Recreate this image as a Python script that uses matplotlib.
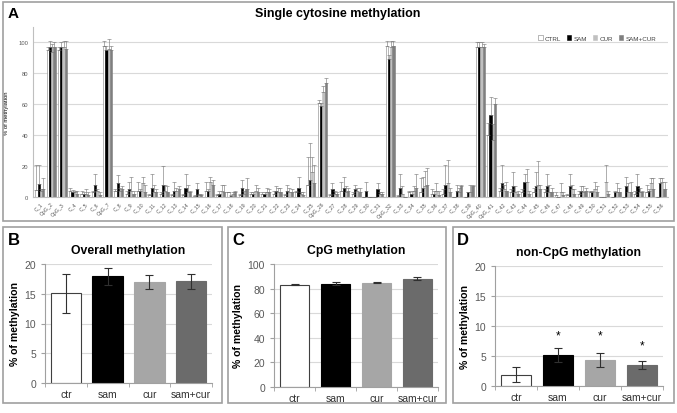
import numpy as np
import matplotlib.pyplot as plt
from matplotlib.patches import Rectangle

plt.rcParams['font.family'] = ['Liberation Sans', 'DejaVu Sans']

# ------------------------------------------------------------------
# panel A data: single cytosine methylation (%), mean and upper error
sites = ["C_1", "CpG_2", "CpG_3", "C_4", "C_5", "C_6", "CpG_7"] + \
        ["C_%d" % i for i in range(8, 26)] + ["CpG_26"] + \
        ["C_%d" % i for i in range(27, 32)] + ["CpG_32"] + \
        ["C_%d" % i for i in range(33, 40)] + ["CpG_40", "CpG_41"] + \
        ["C_%d" % i for i in range(42, 57)]

ctrl = [4.5, 95, 95, 4, 2, 3, 98, 4, 2, 4, 1, 2, 1, 1, 0.5, 4, 1, 3, 1, 2, 2, 2, 1, 3, 8, 61,
        1, 4, 2, 0, 0, 98, 0.5, 3, 3, 2, 2, 0, 0, 97, 40, 4, 3, 3, 3, 3, 1, 1, 2, 3, 0, 0, 0, 2, 3, 0]
sam = [8.5, 97, 97, 3.5, 2, 8, 95, 9, 5.5, 4, 6, 8, 4, 6, 5, 4, 2, 0.5, 6, 2, 2, 4, 4, 6, 11, 59,
       5, 6, 5, 4, 5, 89, 6, 2, 6, 2, 8, 4, 3, 97, 53, 9, 7, 10, 7, 7, 0, 7, 4, 3, 0, 3, 7, 7, 4, 9]
cur = [4, 94, 97, 3, 2, 4, 96, 4, 4, 9, 3, 4, 4, 3, 1, 10, 4, 2, 2, 4, 3, 3, 3, 2, 16, 68,
       2, 3, 4, 0, 2, 97, 2, 4, 7, 4, 9, 3, 3, 97, 37, 5, 3, 10, 8, 3, 3, 5, 3, 5, 10, 3, 3, 3, 9, 10]
samcur = [5, 97, 96, 2, 1.5, 1.5, 95, 5, 2, 3, 3, 3, 5, 3, 1, 8, 3, 3, 5, 3, 3, 3, 3, 1, 9, 74,
          2, 4, 3, 0, 2, 98, 0, 6, 8, 1, 3, 7, 7, 97, 60, 4, 2, 2, 5, 3, 1, 2, 4, 3, 2, 3, 3, 3, 5, 5]

ctrl_err = [16, 2, 2, 2, 2, 1, 3, 1, 2, 6, 1, 1, 1, 1, 0.5, 6, 1, 0.5, 1, 1, 1, 2, 1, 1, 18, 2,
            1, 6, 1, 0, 0, 3, 0.5, 1, 9, 3, 3, 0, 0, 3, 8, 2, 2, 2, 3, 2, 2, 1, 2, 1, 0, 0, 0, 2, 5, 0]
sam_err = [12, 4, 3, 1, 1, 7, 3, 5, 4, 1, 9, 12, 6, 9, 4, 1, 2, 0.5, 5, 1, 1, 3, 4, 7, 24, 2,
           4, 7, 3, 6, 4, 3, 9, 2, 7, 2, 13, 4, 0.5, 3, 12, 12, 9, 5, 9, 8, 0, 8, 3, 1, 0, 1, 6, 8, 1, 3]
cur_err = [1, 5, 4, 1, 3, 1, 6, 2, 9, 4, 5, 4, 2, 5, 1, 3, 4, 1, 2, 4, 3, 3, 3, 1, 10, 4,
           2, 4, 2, 0, 1, 4, 5, 3, 10, 5, 15, 3, 5, 3, 10, 3, 4, 8, 15, 5, 6, 3, 4, 5, 11, 6, 6, 3, 3, 2]
samcur_err = [7, 3, 5, 2, 2, 2, 3, 2, 2, 5, 2, 4, 2, 1, 1, 3, 5, 1, 7, 3, 2, 3, 2, 2, 12, 3,
              1, 2, 3, 0, 1, 3, 0, 9, 11, 3, 3, 1, 1, 2, 4, 6, 2, 2, 3, 3, 2, 3, 2, 4, 2, 3, 7, 1, 7, 5]

series_names = ["CTRL", "SAM", "CUR", "SAM+CUR"]

# panels B-D data
groups = ["ctr", "sam", "cur", "sam+cur"]
overall = [15.1, 17.9, 17.0, 17.1]
overall_err = [3.3, 1.4, 1.2, 1.3]
cpg = [83.2, 84.0, 84.8, 88.2]
cpg_err = [0.3, 1.3, 0.5, 1.5]
noncpg = [1.9, 5.2, 4.3, 3.5]
noncpg_err = [1.2, 1.2, 1.2, 0.7]
noncpg_star = [None, 8.5, 8.5, 6.7]

# ------------------------------------------------------------------
FACE_A = ["white", "black", "#c0c0c0", "#7f7f7f"]
FACE_B = ["white", "black", "#a6a6a6", "#6b6b6b"]
TICKCOL = "#595959"
GRIDCOL = "#d9d9d9"
W, H = 677, 414


def fx(px):
    return px / W


def fy(px):
    return 1 - px / H


fig = plt.figure(figsize=(W / 100, H / 100), dpi=100)

# panel frames
for x0, y0, x1, y1 in [(3, 3, 674, 222), (3, 228, 222, 404), (228, 228, 446, 404), (453, 228, 674, 404)]:
    fig.add_artist(Rectangle((fx(x0), fy(y1)), fx(x1 - x0), (y1 - y0) / H, fill=False,
                             edgecolor="#a0a0a0", linewidth=1.2, transform=fig.transFigure))

# ---------------- panel A ----------------
axA = fig.add_axes([fx(33), fy(198), fx(668 - 33), (198 - 28) / H])
x = np.arange(len(sites))
bw = 0.2
vals = [ctrl, sam, cur, samcur]
errs = [ctrl_err, sam_err, cur_err, samcur_err]
for i in range(4):
    pos = x + (i - 1.5) * bw
    axA.bar(pos, vals[i], bw, color=FACE_A[i], edgecolor="#808080" if i == 0 else FACE_A[i],
            linewidth=0.4, label=series_names[i], zorder=2)
    axA.errorbar(pos, vals[i], yerr=[np.zeros(len(sites)), errs[i]], fmt="none",
                 ecolor="#707070", elinewidth=0.4, capsize=1.2, capthick=0.4, zorder=3)
axA.set_ylim(0, 110)
axA.set_xlim(-0.6, len(sites) - 0.4)
axA.set_yticks(range(0, 101, 20))
axA.yaxis.grid(True, color=GRIDCOL, linewidth=0.8, zorder=0)
axA.set_axisbelow(True)
axA.set_xticks(x)
axA.set_xticklabels(sites, rotation=45, ha="right", fontsize=3.8, color=TICKCOL, rotation_mode="anchor")
axA.tick_params(axis="y", labelsize=4.2, colors=TICKCOL, length=0)
axA.tick_params(axis="x", length=0, pad=3)
for s in ["top", "right"]:
    axA.spines[s].set_visible(False)
axA.spines["left"].set_color("#bfbfbf")
axA.spines["bottom"].set_color("#bfbfbf")
axA.set_ylabel("% of methylation", fontsize=4.2, labelpad=7)
axA.legend(loc="upper right", bbox_to_anchor=(0.99, 0.985), ncol=4, frameon=False, fontsize=4.5,
           handlelength=0.7, handleheight=0.7, columnspacing=1.0, handletextpad=0.3, labelcolor="#404040")
fig.text(fx(338), fy(14), "Single cytosine methylation", ha="center", va="center", fontsize=9, fontweight="bold")
fig.text(fx(8), fy(14), "A", ha="left", va="center", fontsize=11, fontweight="bold")


# ---------------- panels B-D ----------------
def small_panel(rect, values, errors, ymax, ystep, title, letter, lx, stars=None):
    ax = fig.add_axes(rect)
    pos = np.arange(len(groups))
    ax.bar(pos, values, 0.73, color=FACE_B, edgecolor=["#404040", "black", "#a6a6a6", "#6b6b6b"],
           linewidth=0.8, zorder=2)
    ax.errorbar(pos, values, yerr=errors, fmt="none", ecolor="#303030", elinewidth=0.8,
                capsize=3, capthick=0.8, zorder=3)
    if stars:
        for p, s in zip(pos, stars):
            if s is not None:
                ax.text(p, s, "*", ha="center", va="center", fontsize=8.5)
    ax.set_ylim(0, ymax)
    ax.set_xlim(-0.5, len(groups) - 0.5)
    ax.set_yticks(np.arange(0, ymax + 0.1, ystep))
    ax.yaxis.grid(True, color=GRIDCOL, linewidth=0.8, zorder=0)
    ax.set_axisbelow(True)
    ax.set_xticks(pos)
    ax.set_xticklabels(groups, fontsize=7.5, color="#303030")
    ax.set_xticks(np.arange(-0.5, len(groups), 1), minor=True)
    ax.tick_params(axis="x", which="major", length=0, pad=4)
    ax.tick_params(axis="x", which="minor", length=3, color="#a0a0a0")
    ax.tick_params(axis="y", labelsize=7.5, colors=TICKCOL, length=3, color="#a0a0a0")
    for s in ["top", "right"]:
        ax.spines[s].set_visible(False)
    ax.spines["left"].set_color("#a0a0a0")
    ax.spines["bottom"].set_color("#a0a0a0")
    ax.set_ylabel("% of methylation", fontsize=7.6, fontweight="bold", labelpad=3)
    ax.set_title(title, fontsize=8.8, fontweight="bold", pad=8)
    fig.text(fx(lx), fy(241), letter, ha="left", va="center", fontsize=12, fontweight="bold")
    return ax


small_panel([fx(45), fy(384), fx(167), (384 - 265) / H], overall, overall_err, 20, 5,
            "Overall methylation", "B", 8)
small_panel([fx(274), fy(388), fx(164), (388 - 265) / H], cpg, cpg_err, 100, 20,
            "CpG methylation", "C", 232)
small_panel([fx(495), fy(387), fx(168), (387 - 267) / H], noncpg, noncpg_err, 20, 5,
            "non-CpG methylation", "D", 457, stars=noncpg_star)

fig.savefig("out.png", dpi=100)
